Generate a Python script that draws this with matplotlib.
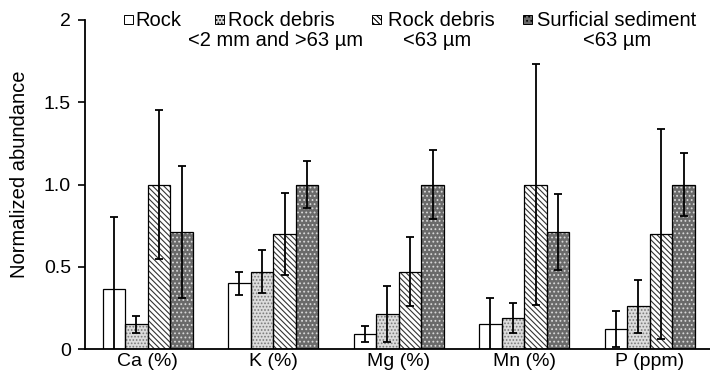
import numpy as np
import matplotlib.pyplot as plt
from matplotlib.patches import Rectangle

plt.rcParams['font.family'] = ['Liberation Sans', 'DejaVu Sans']
plt.rcParams['hatch.linewidth'] = 0.8

elements = ['Ca (%)', 'K (%)', 'Mg (%)', 'Mn (%)', 'P (ppm)']
series = ['Rock', 'Rock debris', 'Rock debris', 'Surficial sediment']
subtitles = ['', '<2 mm and >63 \u00b5m', '<63 \u00b5m', '<63 \u00b5m']

rock = [0.365, 0.40, 0.09, 0.15, 0.12]
rock_err = [0.435, 0.07, 0.05, 0.16, 0.11]
debris = [0.15, 0.47, 0.21, 0.19, 0.26]
debris_err = [0.05, 0.13, 0.17, 0.09, 0.16]
fine = [1.0, 0.70, 0.47, 1.0, 0.70]
fine_err = [0.45, 0.25, 0.21, 0.73, 0.64]
surf = [0.71, 1.0, 1.0, 0.71, 1.0]
surf_err = [0.40, 0.14, 0.21, 0.23, 0.19]

values = [rock, debris, fine, surf]
errors = [rock_err, debris_err, fine_err, surf_err]
faces = ['white', '#dcdcdc', 'white', '#6a6a6a']
hatch_cols = ['white', '#7a7a7a', '#333333', '#d8d8d8']
hatches = [None, '.....', '\\\\\\\\\\\\', '....']

W, H = 710, 375
fig = plt.figure(figsize=(W / 100, H / 100), dpi=100)
ax = fig.add_axes([85 / W, 26 / H, 625 / W, 329 / H])

x = np.arange(len(elements))
w = 0.18
for i in range(4):
    pos = x + (i - 1.5) * w
    ax.bar(pos, values[i], w, color=faces[i], hatch=hatches[i],
           edgecolor=hatch_cols[i], linewidth=0, zorder=2)
    ax.bar(pos, values[i], w, fill=False, edgecolor='black', linewidth=0.9, zorder=3)
    ax.errorbar(pos, values[i], yerr=errors[i], fmt='none', ecolor='black',
                elinewidth=1.3, capsize=3, capthick=1.3, zorder=4)

ax.set_xlim(-0.5, 4.48)
ax.set_ylim(0, 2)
ax.set_yticks([0, 0.5, 1.0, 1.5, 2])
ax.set_yticklabels(['0', '0.5', '1.0', '1.5', '2'], fontsize=14)
ax.set_xticks(x)
ax.set_xticklabels(elements, fontsize=14)
ax.tick_params(axis='x', length=0, pad=3)
ax.tick_params(axis='y', direction='out', length=5, width=1.2, pad=5)
ax.spines['top'].set_visible(False)
ax.spines['right'].set_visible(False)
ax.spines['left'].set_linewidth(1.3)
ax.spines['bottom'].set_linewidth(1.3)
ax.spines['left'].set_bounds(0, 2)
ax.set_ylabel('Normalized abundance', fontsize=14.5)
ax.yaxis.set_label_coords(29 / W, 1 - 174 / H, transform=fig.transFigure)

# legend drawn by hand, in pixel positions of the figure
marker_x = [124, 215, 372, 523]
text_x = [135, 228, 388, 537]
sub_x = [0, 276, 437, 617]
for i in range(4):
    fig.patches.append(Rectangle((marker_x[i] / W, 1 - 24 / H), 9 / W, 9 / H,
                                 transform=fig.transFigure, facecolor=faces[i],
                                 hatch=hatches[i], edgecolor='black', linewidth=0.7))
    fig.text(text_x[i] / W, 1 - 20 / H, series[i], fontsize=14.5, ha='left', va='center')
    if subtitles[i]:
        fig.text(sub_x[i] / W, 1 - 40 / H, subtitles[i], fontsize=14.5,
                 ha='center', va='center')

fig.savefig('out.png', dpi=100)
